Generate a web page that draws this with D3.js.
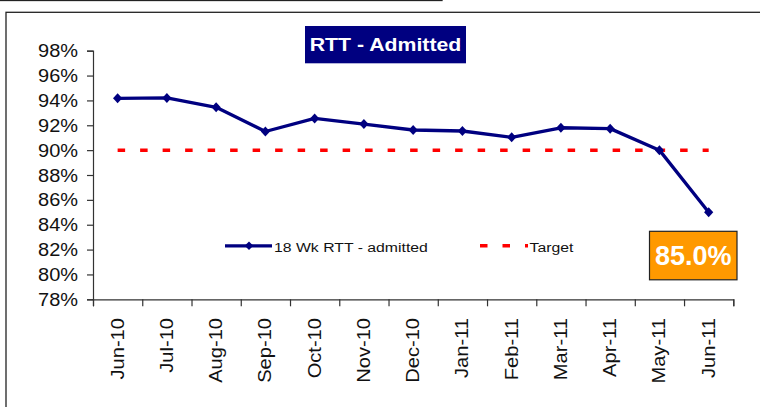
<!DOCTYPE html>
<html>
<head>
<meta charset="utf-8">
<script src="https://cdn.jsdelivr.net/npm/d3@7"></script>
<style>
    body { margin: 0; background: #fff; }
    text { font-family: Arial, "Liberation Sans", sans-serif; }
</style>
</head>
<body>
<div id="chart-area"></div>
<script>

// Data
const months = ["Jun-10", "Jul-10", "Aug-10", "Sep-10", "Oct-10", "Nov-10", "Dec-10",
    "Jan-11", "Feb-11", "Mar-11", "Apr-11", "May-11", "Jun-11"];
const rttAdmitted = [0.9417, 0.942, 0.9345, 0.915, 0.9255, 0.921, 0.9162,
    0.9154, 0.9103, 0.918, 0.9173, 0.900, 0.850];
const target = 0.90;
const yTicks = [0.78, 0.80, 0.82, 0.84, 0.86, 0.88, 0.90, 0.92, 0.94, 0.96, 0.98];
const seriesName = "18 Wk RTT - admitted";
const targetName = "Target";
const titleText = "RTT - Admitted";
const calloutText = "85.0%";

class RttChart {

    constructor(parentElement) {
        this.parentElement = parentElement;
        this.initVis();
    }

    initVis() {
        let vis = this;

        vis.svg = d3.select("#" + vis.parentElement).append("svg")
            .attr("width", 760)
            .attr("height", 407);

        // frames (small box on top, main chart frame)
        vis.svg.append("rect")
            .attr("x", -2).attr("y", -6)
            .attr("width", 444).attr("height", 6.5)
            .attr("fill", "none").attr("stroke", "#222").attr("stroke-width", 1.3);
        vis.svg.append("rect")
            .attr("x", 6).attr("y", 12.3)
            .attr("width", 800).attr("height", 500)
            .attr("fill", "none").attr("stroke", "#222").attr("stroke-width", 1.3);

        // plot area
        vis.left = 93; vis.right = 733.3; vis.top = 50.7; vis.bottom = 299.3;

        vis.x = d3.scaleBand().domain(months).range([vis.left, vis.right]);
        vis.y = d3.scaleLinear().domain([0.78, 0.98]).range([vis.bottom, vis.top]);

        vis.updateVis();
    }

    updateVis() {
        let vis = this;
        const cx = m => vis.x(m) + vis.x.bandwidth() / 2;

        // y axis
        const yAxis = d3.axisLeft(vis.y).tickValues(yTicks).tickSize(6).tickFormat("");
        vis.svg.append("g")
            .attr("transform", "translate(" + vis.left + ",0)")
            .call(yAxis)
            .call(g => g.selectAll("path, line").attr("stroke", "#333").attr("stroke-width", 1.2));

        vis.svg.append("g").selectAll("text")
            .data(yTicks)
            .join("text")
            .attr("transform", d => "translate(78," + (vis.y(d) + 6.6) + ") scale(1.08,1)")
            .attr("text-anchor", "end")
            .style("font-size", "18.5px")
            .attr("fill", "#111")
            .text(d => d3.format(".0%")(d));

        // x axis (ticks at band edges)
        const xAxis = d3.axisBottom(d3.scaleLinear().domain([0, months.length]).range([vis.left, vis.right]))
            .tickValues(d3.range(months.length + 1)).tickSize(7).tickFormat("");
        vis.svg.append("g")
            .attr("transform", "translate(0," + vis.bottom + ")")
            .call(xAxis)
            .call(g => g.selectAll("path, line").attr("stroke", "#333").attr("stroke-width", 1.2));

        vis.svg.append("g").selectAll("text")
            .data(months)
            .join("text")
            .attr("transform", d => "translate(" + (cx(d) + 6) + ",318) rotate(-90) scale(1.15,1)")
            .attr("text-anchor", "end")
            .style("font-size", "17.5px")
            .attr("fill", "#111")
            .text(d => d);

        // target line
        vis.svg.append("line")
            .attr("x1", cx(months[0])).attr("x2", cx(months[months.length - 1]))
            .attr("y1", vis.y(target)).attr("y2", vis.y(target))
            .attr("stroke", "#ff0000").attr("stroke-width", 3.5)
            .attr("stroke-dasharray", "7.5,15");

        // series line
        const pts = months.map((m, i) => ({ m: m, v: rttAdmitted[i] }));
        vis.svg.append("path")
            .datum(pts)
            .attr("fill", "none")
            .attr("stroke", "#000080")
            .attr("stroke-width", 3.3)
            .attr("stroke-linejoin", "round")
            .attr("d", d3.line().x(d => cx(d.m)).y(d => vis.y(d.v)));

        const diamond = (w, h) => "M0," + (-h) + "L" + w + ",0L0," + h + "L" + (-w) + ",0Z";
        vis.svg.append("g").selectAll("path")
            .data(pts)
            .join("path")
            .attr("transform", d => "translate(" + cx(d.m) + "," + vis.y(d.v) + ")")
            .attr("d", diamond(4.6, 5))
            .attr("fill", "#000080");

        // title box
        vis.svg.append("rect")
            .attr("x", 305).attr("y", 26).attr("width", 161).attr("height", 37.3)
            .attr("fill", "#000080");
        vis.svg.append("text")
            .attr("transform", "translate(385.5,51) scale(1.15,1)")
            .attr("text-anchor", "middle")
            .style("font-size", "18.5px").style("font-weight", "bold")
            .attr("fill", "#fff")
            .text(titleText);

        // legend
        const legY = 245.8;
        vis.svg.append("line")
            .attr("x1", 225).attr("x2", 272).attr("y1", legY).attr("y2", legY)
            .attr("stroke", "#000080").attr("stroke-width", 3.2);
        vis.svg.append("path")
            .attr("transform", "translate(249," + legY + ")")
            .attr("d", diamond(4.3, 4.3))
            .attr("fill", "#000080");
        vis.svg.append("text")
            .attr("transform", "translate(274,251.7) scale(1.17,1)")
            .style("font-size", "13.5px").attr("fill", "#111")
            .text(seriesName);

        vis.svg.append("line")
            .attr("x1", 480).attr("x2", 528).attr("y1", legY).attr("y2", legY)
            .attr("stroke", "#ff0000").attr("stroke-width", 3.5)
            .attr("stroke-dasharray", "7.5,15");
        vis.svg.append("text")
            .attr("transform", "translate(529.5,251.7) scale(1.17,1)")
            .style("font-size", "13.5px").attr("fill", "#111")
            .text(targetName);

        // callout box with latest value
        vis.svg.append("rect")
            .attr("x", 649.5).attr("y", 231.3).attr("width", 87.5).attr("height", 48.5)
            .attr("fill", "#ff9900").attr("stroke", "#222").attr("stroke-width", 1.2);
        vis.svg.append("text")
            .attr("x", 693.3).attr("y", 264.5)
            .attr("text-anchor", "middle")
            .style("font-size", "27px").style("font-weight", "bold")
            .attr("fill", "#fff")
            .text(calloutText);
    }
}

new RttChart("chart-area");
</script>
</body>
</html>
